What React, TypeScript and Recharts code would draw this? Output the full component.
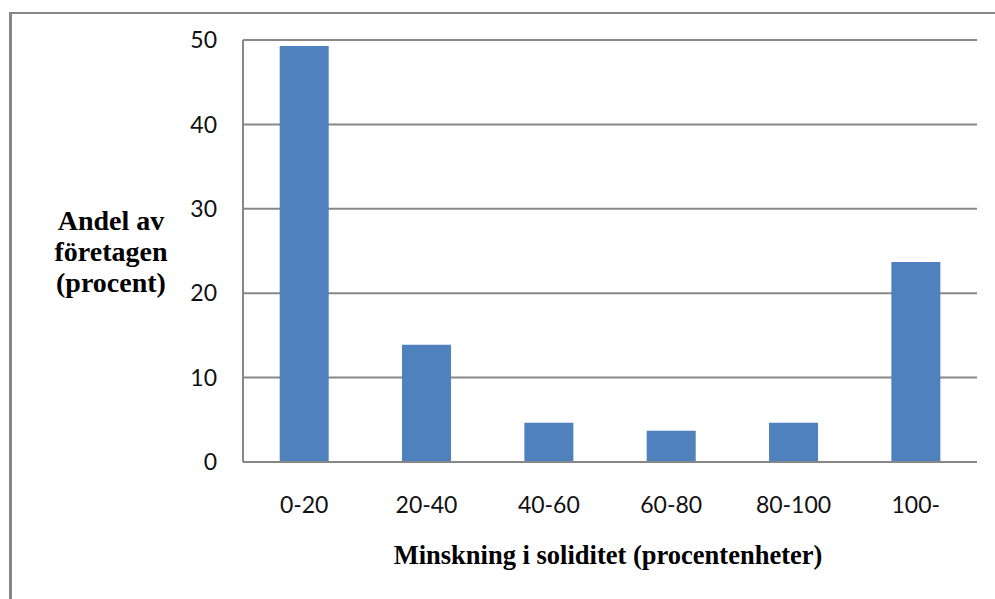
import { BarChart, Bar, XAxis, YAxis, CartesianGrid, Label } from 'recharts';

const categories = ['0-20', '20-40', '40-60', '60-80', '80-100', '100-'];
const shares = [49.3, 13.9, 4.65, 3.7, 4.65, 23.7];
const yTicks = [0, 10, 20, 30, 40, 50];

const yTitleLines = ['Andel av', 'företagen', '(procent)'];
const xTitle = 'Minskning i soliditet (procentenheter)';

const data = categories.map((name, i) => ({ name, value: shares[i] }));

const GRID = '#878787';
const TICK_FONT = { fontFamily: 'Lato, sans-serif', fontSize: 23, fill: '#111' };
const TITLE_FONT = { fontFamily: '"Liberation Serif", serif', fontWeight: 700, fill: '#000' };

export default function App() {
    return (
        <div style={{ position: 'absolute', left: 0, top: 0, width: 995, height: 599, overflow: 'hidden', background: '#fff' }}>
            {/* outer frame, open to the right and bottom */}
            <div
                style={{
                    position: 'absolute',
                    left: 9,
                    top: 12,
                    width: 1100,
                    height: 700,
                    borderLeft: `3px solid ${GRID}`,
                    borderTop: `2px solid ${GRID}`,
                }}
            />
            <BarChart
                width={995}
                height={599}
                data={data}
                margin={{ top: 40, right: 18, bottom: 77, left: 183 }}
                barCategoryGap="30%"
                style={{ position: 'absolute', left: 0, top: 0 }}
            >
                <CartesianGrid vertical={false} stroke={GRID} strokeWidth={2} />
                <XAxis
                    dataKey="name"
                    height={60}
                    stroke={GRID}
                    strokeWidth={2}
                    tickLine={false}
                    tickSize={0}
                    tickMargin={35}
                    tick={TICK_FONT}
                >
                    <Label
                        content={() => (
                            <text x={608} y={564} textAnchor="middle" style={{ ...TITLE_FONT, fontSize: 26.5 }}>
                                {xTitle}
                            </text>
                        )}
                    />
                </XAxis>
                <YAxis
                    width={60}
                    domain={[0, 50]}
                    ticks={yTicks}
                    stroke={GRID}
                    strokeWidth={2}
                    tickLine={false}
                    tickSize={0}
                    tickMargin={26}
                    tick={TICK_FONT}
                >
                    <Label
                        content={() => (
                            <text x={111} y={230} textAnchor="middle" style={{ ...TITLE_FONT, fontSize: 28 }}>
                                {yTitleLines.map((line, i) => (
                                    <tspan key={line} x={111} dy={i === 0 ? 0 : 31}>
                                        {line}
                                    </tspan>
                                ))}
                            </text>
                        )}
                    />
                </YAxis>
                <Bar dataKey="value" fill="#4F81BD" isAnimationActive={false} />
            </BarChart>
        </div>
    );
}
